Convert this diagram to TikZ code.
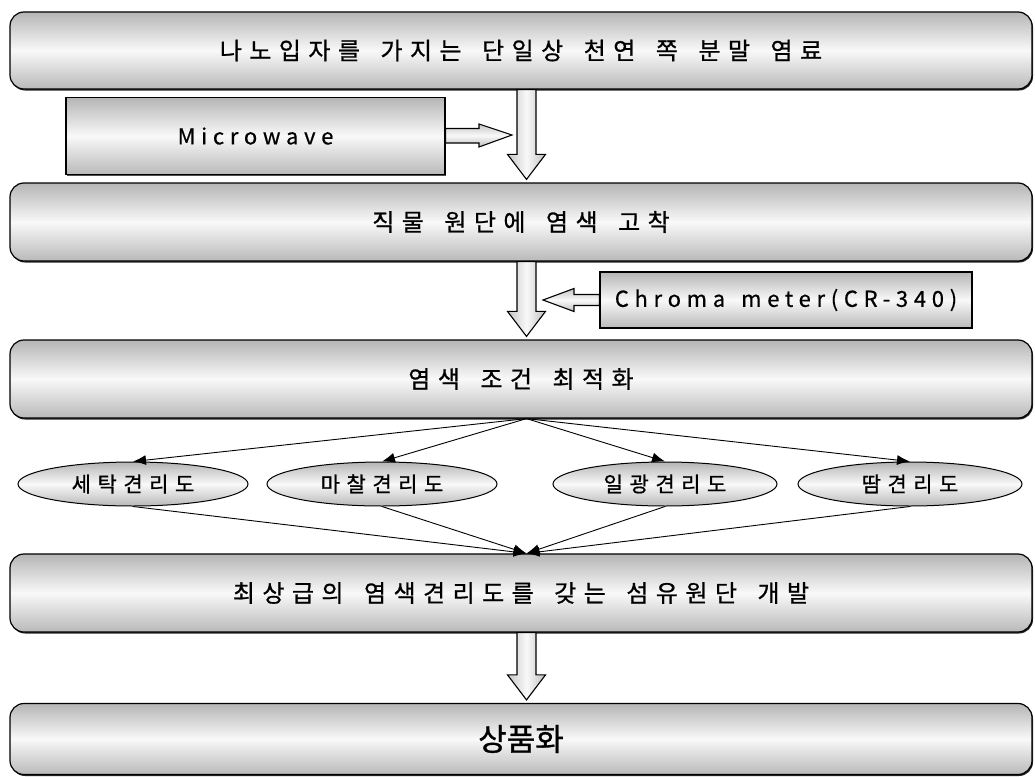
\documentclass[tikz,border=0pt]{standalone}
\usepackage{fontspec}
\setmainfont{Noto Sans CJK KR}
\newfontfamily\kr[LetterSpace=31, WordSpace=1.6, FakeBold=0.8]{Noto Sans CJK KR}
\newfontfamily\kb[FakeBold=1]{Noto Sans CJK KR}
\newfontfamily\lat[LetterSpace=26, WordSpace=1.5, FakeBold=0.5]{Noto Sans CJK KR}
\usetikzlibrary{arrows.meta,shapes.geometric,calc,shadows}
\tikzset{
  shadebox/.style={top color=gray!58, bottom color=gray!55, middle color=gray!5},
  mainbox/.style={shadebox, draw, line width=1.2pt, rounded corners=14pt,
    minimum width=1022pt, inner sep=0pt,
    drop shadow={shadow xshift=1pt, shadow yshift=-1.5pt, fill=black, opacity=.85},
    font=\kr\fontsize{24}{28}\selectfont},
  sidebox/.style={shadebox, draw, line width=1.1pt, inner sep=0pt,
    drop shadow={shadow xshift=1pt, shadow yshift=-1pt, fill=black, opacity=.7},
    font=\lat\fontsize{22}{26}\selectfont},
  oval/.style={ellipse, shadebox, draw, line width=1pt, inner sep=0pt,
    minimum height=44pt, font=\kr\fontsize{21}{24}\selectfont},
  blockv/.style={draw, line width=1.1pt, left color=gray!45, right color=gray!50, middle color=gray!5},
  blockh/.style={draw, line width=1.1pt, top color=gray!45, bottom color=gray!50, middle color=gray!5},
  fan/.style={draw, line width=0.9pt, -{Latex[length=13pt,width=10pt]}}
}
\begin{document}
\begin{tikzpicture}[x=1pt,y=-1pt]
\useasboundingbox (0,0) rectangle (1035,776);
% main boxes
\node[mainbox, minimum height=77pt] (b1) at (521,50.5) {나노입자를 가지는 단일상 천연 쪽 분말 염료};
\node[mainbox, minimum height=78pt] (b2) at (521,222) {직물 원단에 염색 고착};
\node[mainbox, minimum height=78pt] (b3) at (521,379) {염색 조건 최적화};
\node[mainbox, minimum height=78pt] (b4) at (521,593) {최상급의 염색견리도를 갖는 섬유원단 개발};
\node[mainbox, minimum height=71pt, font=\kb\fontsize{31}{34}\selectfont] (b5) at (521,739) {상품화};
% side boxes
\node[sidebox, minimum width=379pt, minimum height=77pt] (mw) at (255.5,136) {Microwave};
\node[sidebox, minimum width=372pt, minimum height=56pt] (ch) at (786,300) {Chroma meter(CR-340)};
% ellipses
\node[oval, minimum width=230pt] (e1) at (133,484) {세탁견리도};
\node[oval, minimum width=230pt] (e2) at (382,484) {마찰견리도};
\node[oval, minimum width=224pt] (e3) at (665,484) {일광견리도};
\node[oval, minimum width=224pt] (e4) at (910,484) {땀견리도};
% block down arrows
\foreach \a/\b in {b1/b2, b2/b3, b4/b5}{
  \path[blockv] let \p1=(\a.south), \p2=(\b.north) in
    (\x1+5.5pt-9.5pt,\y1) -- (\x1+5.5pt-9.5pt,\y2+28pt) -- (\x1+5.5pt-19pt,\y2+28pt)
    -- (\x1+5.5pt,\y2+3pt) -- (\x1+5.5pt+19pt,\y2+28pt) -- (\x1+5.5pt+9.5pt,\y2+28pt)
    -- (\x1+5.5pt+9.5pt,\y1) -- cycle;
}
% microwave arrow
\path[blockh] let \p1=(mw.east), \p2=(b1.south) in
  (\x1,\y1+7.5pt) -- (\x2+5.5pt-14.5pt-33pt,\y1+7.5pt) -- (\x2+5.5pt-14.5pt-33pt,\y1+12pt)
  -- (\x2+5.5pt-14.5pt,\y1+1pt) -- (\x2+5.5pt-14.5pt-33pt,\y1-11pt) -- (\x2+5.5pt-14.5pt-33pt,\y1-7pt)
  -- (\x1,\y1-7pt) -- cycle;
% chroma arrow
\path[blockh] let \p1=(ch.west), \p2=(b2.south) in
  (\x1,\y1+5.5pt) -- (\x2+5.5pt+16.5pt+31pt,\y1+5.5pt) -- (\x2+5.5pt+16.5pt+31pt,\y1+11.5pt)
  -- (\x2+5.5pt+16.5pt,\y1) -- (\x2+5.5pt+16.5pt+31pt,\y1-11.5pt) -- (\x2+5.5pt+16.5pt+31pt,\y1-5.5pt)
  -- (\x1,\y1-5.5pt) -- cycle;
% fan out / fan in
\coordinate (fo) at ($(b3.south)+(5.5,0)$);
\coordinate (fi) at ($(b4.north)+(5.5,0)$);
\foreach \e in {e1,e2,e3,e4}{
  \draw[fan] (fo) -- (\e.north);
  \draw[fan] (\e.south) -- (fi);
}
\end{tikzpicture}
\end{document}
